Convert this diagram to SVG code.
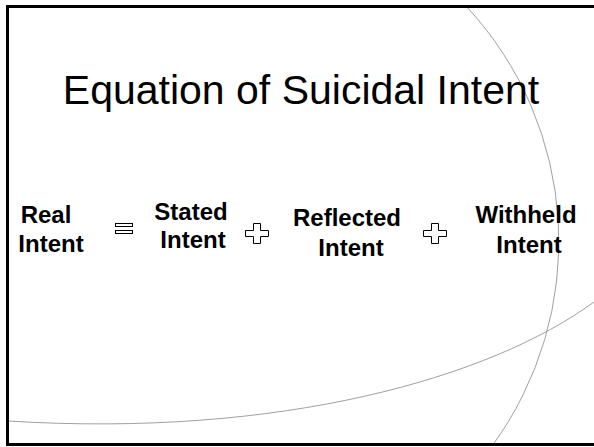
<svg xmlns="http://www.w3.org/2000/svg" width="594" height="447" viewBox="0 0 594 447">
<style>
.lbl{font-family:"Liberation Sans",Arial,sans-serif;font-weight:bold;font-size:24px;fill:#000;text-anchor:middle}
.title{font-family:"Liberation Sans",Arial,sans-serif;font-size:41px;fill:#000;text-anchor:middle}
.op{fill:#fff;stroke:#000;stroke-width:1}
.curve{fill:none;stroke:#a0a0a0;stroke-width:1}
</style>
<rect x="0" y="0" width="594" height="447" fill="#fff"/>
<g id="decor">
<path class="curve" d="M466 6 A345.5 345.5 0 0 1 492 446"/>
<path class="curve" d="M8 421 C280 438, 490 378, 594 302"/>
</g>
<rect x="7.5" y="6.5" width="600" height="438" fill="none" stroke="#000" stroke-width="3"/>
<g id="title"><text class="title" x="301" y="104">Equation of Suicidal Intent</text></g>
<g id="real"><text class="lbl" x="46" y="223">Real</text><text class="lbl" x="51" y="252">Intent</text></g>
<g id="equals"><rect class="op" x="115.5" y="223.5" width="17" height="3"/><rect class="op" x="115.5" y="230.5" width="17" height="3"/></g>
<g id="stated"><text class="lbl" x="191" y="220">Stated</text><text class="lbl" x="193" y="248">Intent</text></g>
<g id="plus1"><path class="op" d="M253.5 223.5h7v7h8v6h-8v7h-7v-7h-8v-6h8z"/></g>
<g id="reflected"><text class="lbl" x="347" y="226">Reflected</text><text class="lbl" x="351" y="256">Intent</text></g>
<g id="plus2"><path class="op" d="M431.5 223.5h7v7h8v6h-8v7h-7v-7h-8v-6h8z"/></g>
<g id="withheld"><text class="lbl" x="526" y="223">Withheld</text><text class="lbl" x="529" y="253">Intent</text></g>
</svg>
